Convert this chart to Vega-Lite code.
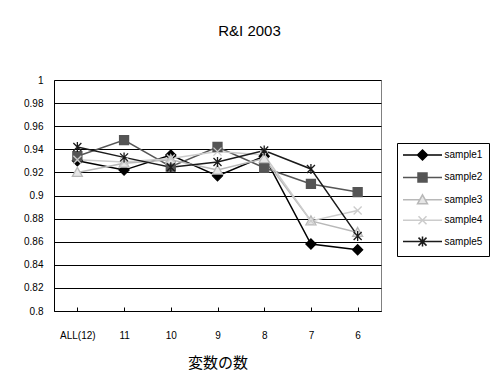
{
  "$schema": "https://vega.github.io/schema/vega-lite/v6.json",
  "autosize": {"type": "none"},
  "padding": {"left": 54, "top": 80, "right": 110, "bottom": 78},
  "width": 327,
  "height": 231,
  "background": "white",
  "title": {
    "text": "R&I 2003",
    "font": "Liberation Sans",
    "fontSize": 15,
    "fontWeight": "normal",
    "color": "#000",
    "anchor": "middle",
    "dx": 32,
    "offset": 36
  },
  "data": {
    "values": [
      {"k": "ALL(12)", "series": "sample1", "v": 0.930},
      {"k": "11", "series": "sample1", "v": 0.922},
      {"k": "10", "series": "sample1", "v": 0.935},
      {"k": "9", "series": "sample1", "v": 0.917},
      {"k": "8", "series": "sample1", "v": 0.934},
      {"k": "7", "series": "sample1", "v": 0.858},
      {"k": "6", "series": "sample1", "v": 0.853},
      {"k": "ALL(12)", "series": "sample2", "v": 0.934},
      {"k": "11", "series": "sample2", "v": 0.948},
      {"k": "10", "series": "sample2", "v": 0.925},
      {"k": "9", "series": "sample2", "v": 0.942},
      {"k": "8", "series": "sample2", "v": 0.924},
      {"k": "7", "series": "sample2", "v": 0.910},
      {"k": "6", "series": "sample2", "v": 0.903},
      {"k": "ALL(12)", "series": "sample3", "v": 0.920},
      {"k": "11", "series": "sample3", "v": 0.928},
      {"k": "10", "series": "sample3", "v": 0.931},
      {"k": "9", "series": "sample3", "v": 0.922},
      {"k": "8", "series": "sample3", "v": 0.932},
      {"k": "7", "series": "sample3", "v": 0.878},
      {"k": "6", "series": "sample3", "v": 0.868},
      {"k": "ALL(12)", "series": "sample4", "v": 0.931},
      {"k": "11", "series": "sample4", "v": 0.929},
      {"k": "10", "series": "sample4", "v": 0.932},
      {"k": "9", "series": "sample4", "v": 0.938},
      {"k": "8", "series": "sample4", "v": 0.935},
      {"k": "7", "series": "sample4", "v": 0.878},
      {"k": "6", "series": "sample4", "v": 0.887},
      {"k": "ALL(12)", "series": "sample5", "v": 0.942},
      {"k": "11", "series": "sample5", "v": 0.933},
      {"k": "10", "series": "sample5", "v": 0.9245},
      {"k": "9", "series": "sample5", "v": 0.929},
      {"k": "8", "series": "sample5", "v": 0.939},
      {"k": "7", "series": "sample5", "v": 0.923},
      {"k": "6", "series": "sample5", "v": 0.865}
    ]
  },
  "encoding": {
    "x": {
      "field": "k",
      "type": "nominal",
      "sort": ["ALL(12)", "11", "10", "9", "8", "7", "6"],
      "scale": {"paddingInner": 0, "paddingOuter": 0},
      "axis": {
        "title": "変数の数",
        "titleFont": "Noto Sans CJK JP",
        "titleFontSize": 15,
        "titleFontWeight": "normal",
        "titleColor": "#000",
        "titlePadding": 15,
        "labelAngle": 0,
        "labelFont": "Liberation Sans",
        "labelFontSize": 10,
        "labelColor": "#000",
        "labelPadding": 23,
        "bandPosition": 0,
        "ticks": true,
        "tickSize": -4,
        "tickColor": "#000",
        "domainColor": "#000",
        "grid": false
      }
    },
    "y": {
      "field": "v",
      "type": "quantitative",
      "scale": {"domain": [0.8, 1], "nice": false, "zero": false},
      "axis": {
        "title": null,
        "values": [0.8, 0.82, 0.84, 0.86, 0.88, 0.9, 0.92, 0.94, 0.96, 0.98, 1],
        "format": ".2~f",
        "labelFont": "Liberation Sans",
        "labelFontSize": 10,
        "labelColor": "#000",
        "labelPadding": 11,
        "ticks": false,
        "domainColor": "#000",
        "grid": true,
        "gridColor": "#000",
        "gridOpacity": 1,
        "gridWidth": 1
      }
    },
    "stroke": {
      "field": "series",
      "type": "nominal",
      "scale": {
        "domain": ["sample1", "sample2", "sample3", "sample4", "sample5"],
        "range": ["#000000", "#555555", "#b8b8b8", "#cccccc", "#1a1a1a"]
      },
      "legend": {
        "title": null,
        "orient": "none",
        "legendX": 343,
        "legendY": 63,
        "strokeColor": "#000",
        "fillColor": "white",
        "padding": 6,
        "symbolSize": 100,
        "symbolStrokeWidth": 1.5,
        "symbolOffset": 13.5,
        "labelFont": "Liberation Sans",
        "labelFontSize": 10,
        "labelColor": "#000",
        "labelOffset": 16,
        "rowPadding": 6.4,
        "encode": {
          "symbols": {
            "update": {
              "shape": {
                "signal": "datum.value === 'sample1' ? 'M-3.9,0L3.9,0M0,-1L1,0L0,1L-1,0Z' : datum.value === 'sample2' ? 'M-3.9,0L3.9,0M-0.9,-0.9L0.9,-0.9L0.9,0.9L-0.9,0.9Z' : datum.value === 'sample3' ? 'M-3.9,0L-0.6,0M0.6,0L3.9,0M0,-1L1,0.8L-1,0.8Z' : datum.value === 'sample4' ? 'M-3.9,0L3.9,0M-0.8,-0.8L0.8,0.8M-0.8,0.8L0.8,-0.8' : 'M-3.9,0L3.9,0M-0.8,-0.8L0.8,0.8M-0.8,0.8L0.8,-0.8M0,-1L0,1'"
              },
              "fill": {
                "signal": "datum.value === 'sample1' ? '#000000' : datum.value === 'sample2' ? '#555555' : datum.value === 'sample3' ? '#e6e6e6' : 'transparent'"
              }
            }
          }
        }
      }
    }
  },
  "layer": [
    {
      "mark": {"type": "line", "strokeWidth": 1.5}
    },
    {
      "transform": [{"filter": "datum.series === 'sample1'"}],
      "mark": {"type": "point", "shape": "M0,-1L1,0L0,1L-1,0Z", "size": 100, "fill": "#000000", "strokeWidth": 1.3, "opacity": 1}
    },
    {
      "transform": [{"filter": "datum.series === 'sample2'"}],
      "mark": {"type": "point", "shape": "M-0.9,-0.9L0.9,-0.9L0.9,0.9L-0.9,0.9Z", "size": 100, "fill": "#555555", "strokeWidth": 1.3, "opacity": 1}
    },
    {
      "transform": [{"filter": "datum.series === 'sample3'"}],
      "mark": {"type": "point", "shape": "M0,-1L1,0.8L-1,0.8Z", "size": 100, "fill": "#e6e6e6", "strokeWidth": 1.3, "opacity": 1}
    },
    {
      "transform": [{"filter": "datum.series === 'sample4'"}],
      "mark": {"type": "point", "shape": "M-0.8,-0.8L0.8,0.8M-0.8,0.8L0.8,-0.8", "size": 100, "fill": "transparent", "strokeWidth": 1.3, "opacity": 1}
    },
    {
      "transform": [{"filter": "datum.series === 'sample5'"}],
      "mark": {"type": "point", "shape": "M-0.8,-0.8L0.8,0.8M-0.8,0.8L0.8,-0.8M0,-1L0,1", "size": 100, "fill": "transparent", "strokeWidth": 1.3, "opacity": 1}
    }
  ],
  "config": {
    "view": {"stroke": "#808080", "strokeWidth": 1}
  }
}
